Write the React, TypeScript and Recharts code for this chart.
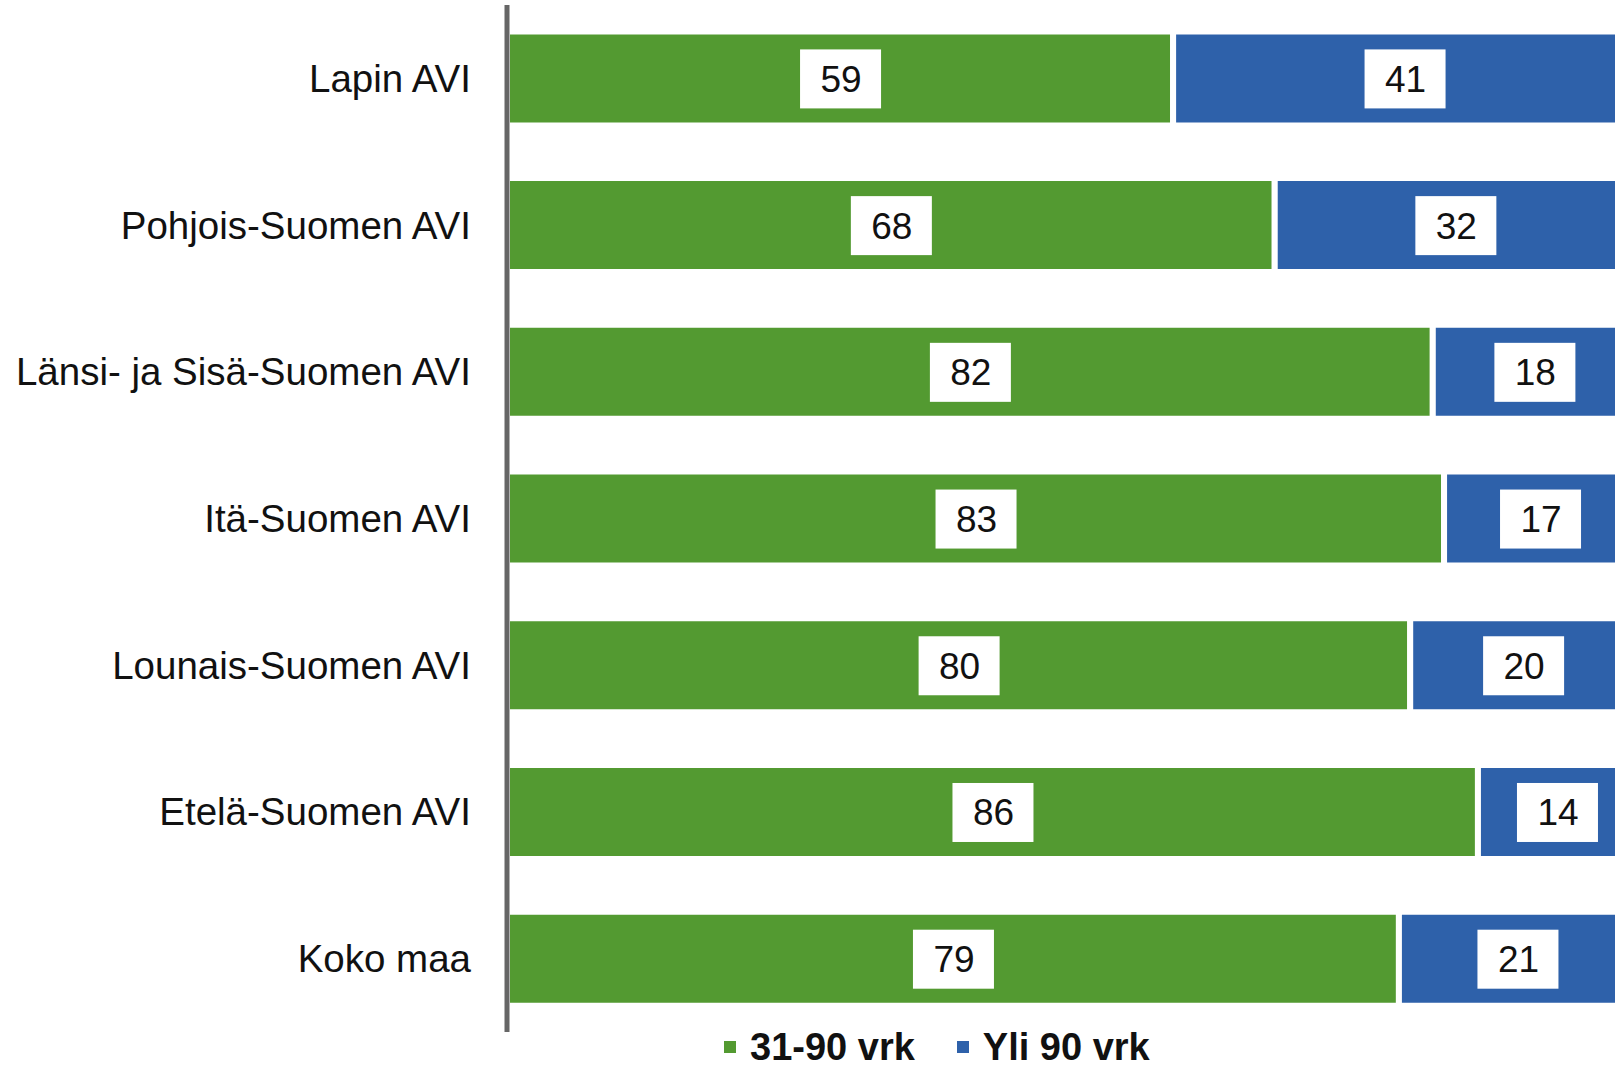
import React from 'react';
import { BarChart, Bar, XAxis, YAxis, Legend, LabelList } from 'recharts';

const regions = [
  'Lapin AVI',
  'Pohjois-Suomen AVI',
  'Länsi- ja Sisä-Suomen AVI',
  'Itä-Suomen AVI',
  'Lounais-Suomen AVI',
  'Etelä-Suomen AVI',
  'Koko maa',
];
const days31to90 = [59, 68, 82, 83, 80, 86, 79];
const over90 = [41, 32, 18, 17, 20, 14, 21];

const seriesNames = ['31-90 vrk', 'Yli 90 vrk'];
const GREEN = '#539A31';
const BLUE = '#2E61AA';
const FONT = '"Liberation Sans", Arial, sans-serif';

const data = regions.map((name, i) => ({
  name,
  short: days31to90[i],
  long: over90[i],
}));

function ValueBox(props: any) {
  const { x, y, width, height, value } = props;
  const cx = x + width / 2;
  const cy = y + height / 2;
  return (
    <g>
      <rect x={cx - 40} y={cy - 29} width={81} height={59} fill="#fff" />
      <text
        x={cx + 1}
        y={cy + 1}
        textAnchor="middle"
        dominantBaseline="central"
        fontFamily={FONT}
        fontSize={37}
        fill="#111"
      >
        {value}
      </text>
    </g>
  );
}

function RegionTick(props: any) {
  const { x, y, payload } = props;
  return (
    <text
      x={x}
      y={y}
      textAnchor="end"
      dominantBaseline="central"
      fontFamily={FONT}
      fontSize={38.5}
      fill="#111"
    >
      {payload.value}
    </text>
  );
}

function LegendBox() {
  const colors = [GREEN, BLUE];
  return (
    <div style={{ display: 'flex', alignItems: 'center', fontFamily: FONT, fontWeight: 'bold', fontSize: 38, lineHeight: '38px', color: '#111' }}>
      {seriesNames.map((n, i) => (
        <span key={n} style={{ display: 'flex', alignItems: 'center', marginRight: 42 }}>
          <span style={{ width: 12, height: 12, background: colors[i], marginRight: 14, display: 'inline-block' }} />
          {n}
        </span>
      ))}
    </div>
  );
}

export default function App() {
  return (
    <div style={{ position: 'fixed', left: 0, top: 0, width: 1615, height: 1069, overflow: 'hidden', background: '#fff' }}>
      <BarChart
        width={1640}
        height={1069}
        data={data}
        layout="vertical"
        barCategoryGap="18%"
        margin={{ top: 5, right: 4, bottom: 0, left: 0 }}
      >
        <XAxis type="number" domain={[0, 100]} hide />
        <YAxis
          type="category"
          dataKey="name"
          width={507}
          axisLine={{ stroke: '#666', strokeWidth: 5 }}
          tickLine={false}
          tickMargin={30}
          tick={<RegionTick />}
        />
        <Legend
          verticalAlign="bottom"
          content={<LegendBox />}
          wrapperStyle={{ left: 724, width: 600, height: 37, bottom: 4 }}
        />
        <Bar dataKey="short" stackId="a" fill={GREEN} stroke="#fff" strokeWidth={6} isAnimationActive={false}>
          <LabelList dataKey="short" content={<ValueBox />} />
        </Bar>
        <Bar dataKey="long" stackId="a" fill={BLUE} stroke="#fff" strokeWidth={6} isAnimationActive={false}>
          <LabelList dataKey="long" content={<ValueBox />} />
        </Bar>
      </BarChart>
    </div>
  );
}
